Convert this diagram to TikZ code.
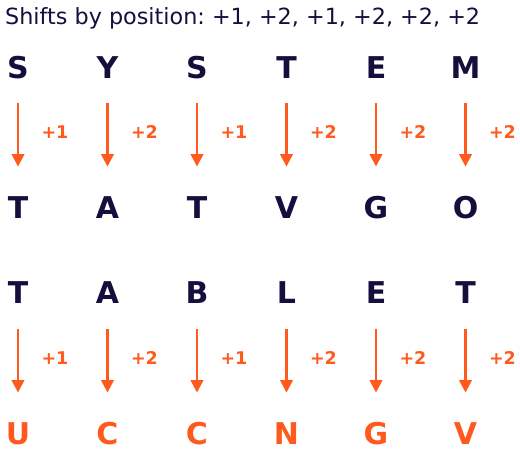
\documentclass[tikz,border=0pt]{standalone}
\usepackage{fontspec}
\setmainfont{DejaVu Sans}
\usetikzlibrary{arrows.meta}
\definecolor{navy}{HTML}{140F3C}
\definecolor{orng}{HTML}{FF5A1E}
\frenchspacing
\begin{document}
\begin{tikzpicture}[x=1pt,y=-1pt,
  letter/.style={inner sep=0pt, text height=21.5pt, text depth=0pt, font=\fontsize{30}{30}\selectfont\bfseries},
  src/.style={letter, text=navy},
  dst/.style={letter, text=orng},
  shiftarrow/.style={draw=orng, line width=2.5pt, -{Triangle[length=12.5pt,width=12.5pt]}, shorten <=25pt, shorten >=30pt},
  shiftlabel/.style={inner sep=0pt, text=orng, font=\fontsize{17.5}{17.5}\selectfont\bfseries}]
\useasboundingbox (0,0) rectangle (520,450);
\node[inner sep=0pt, anchor=base west, text=navy, font=\fontsize{22.3}{22.3}\selectfont] (title) at (5,24) {Shifts by position: +1, +2, +1, +2, +2, +2};
\foreach \i/\a/\b/\c/\d/\s in {1/S/T/T/U/1, 2/Y/A/A/C/2, 3/S/T/B/C/1, 4/T/V/L/N/2, 5/E/G/E/G/2, 6/M/O/T/V/2} {
  \pgfmathsetmacro{\xx}{18+89.5*(\i-1)}
  \node[src] (a\i) at (\xx,67.5) {\a};
  \node[src] (b\i) at (\xx,207.5) {\b};
  \node[src] (c\i) at (\xx,293) {\c};
  \node[dst] (d\i) at (\xx,433.5) {\d};
  \draw[shiftarrow] (a\i) -- (b\i);
  \draw[shiftarrow] (c\i) -- (d\i);
  \node[shiftlabel] (la\i) at (\xx+37,132) {+\s};
  \node[shiftlabel] (lc\i) at (\xx+37,358) {+\s};
}
\end{tikzpicture}
\end{document}
